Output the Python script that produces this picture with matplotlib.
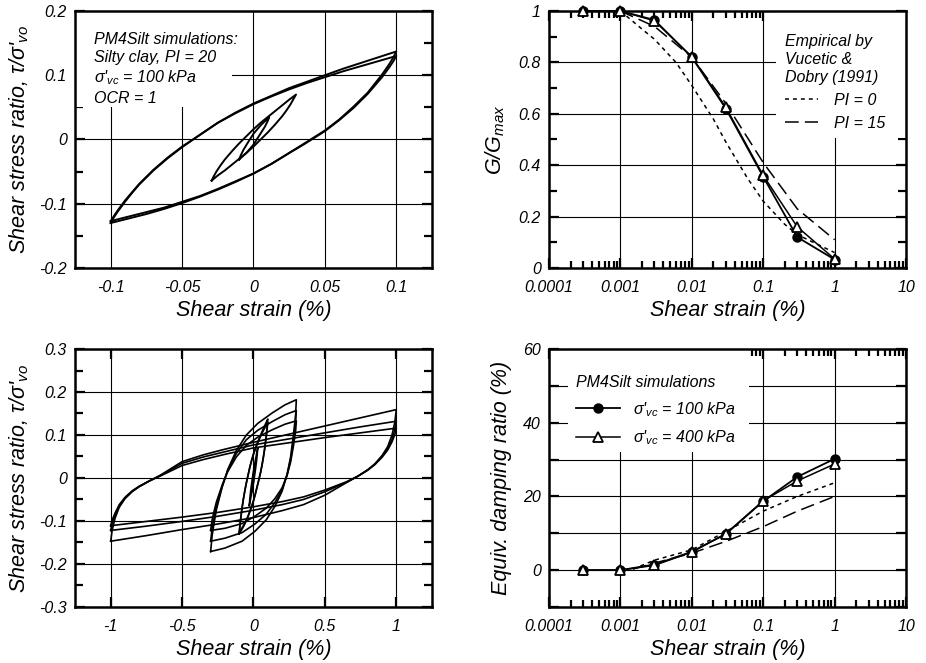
import matplotlib
matplotlib.use("Agg")
import matplotlib.pyplot as plt
from matplotlib.patches import Rectangle
from matplotlib.ticker import MultipleLocator, LogLocator, FuncFormatter, NullFormatter

plt.rcParams['font.family'] = ['Liberation Sans', 'DejaVu Sans']
plt.rcParams['font.style'] = 'italic'
plt.rcParams['font.size'] = 11.5
plt.rcParams['mathtext.fontset'] = 'custom'
plt.rcParams['mathtext.rm'] = 'Liberation Sans:italic'
plt.rcParams['mathtext.it'] = 'Liberation Sans:italic'
plt.rcParams['mathtext.sf'] = 'Liberation Sans:italic'
plt.rcParams['axes.linewidth'] = 1.8

# ---- stress-strain loops (strain %, stress ratio) ----
# 0.01 % cycles
a001_load_x = [-0.010, -0.009, -0.007, -0.004, 0.0, 0.005, 0.011]
a001_load_y = [[-0.031, -0.025, -0.016, -0.005, 0.009, 0.022, 0.035]]
a001_unload_x = [0.011, 0.010, 0.008, 0.004, 0.0, -0.005, -0.010]
a001_unload_y = [[0.035, 0.029, 0.020, 0.006, -0.008, -0.021, -0.031]]

# 0.03 % cycles
a003_load_x = [-0.0293, -0.028, -0.026, -0.023, -0.02, -0.015, -0.01, -0.005, 0.0,
               0.005, 0.01, 0.015, 0.02, 0.025, 0.0298]
a003_load_y = [[-0.064, -0.058, -0.050, -0.040, -0.031, -0.018, -0.006, 0.005, 0.016,
                0.026, 0.035, 0.044, 0.053, 0.062, 0.070]]
a003_unload_x = [0.0298, 0.028, 0.026, 0.023, 0.02, 0.015, 0.01, 0.005, 0.0,
                 -0.005, -0.01, -0.015, -0.02, -0.025, -0.0293]
a003_unload_y = [[0.070, 0.063, 0.055, 0.045, 0.036, 0.023, 0.011, 0.000, -0.011,
                  -0.021, -0.030, -0.039, -0.048, -0.056, -0.064]]

# 0.1 % cycles
a01_load_x = [-0.1, -0.098, -0.095, -0.09, -0.085, -0.08, -0.07, -0.06, -0.05, -0.043,
              -0.035, -0.025, -0.0125, 0.0, 0.0125, 0.025, 0.0375, 0.05, 0.0625, 0.075, 0.0875, 0.1]
a01_load_y = [[-0.130, -0.122, -0.112, -0.097, -0.083, -0.070, -0.048, -0.029, -0.012, -0.001,
               0.011, 0.026, 0.042, 0.056, 0.068, 0.080, 0.090, 0.100, 0.110, 0.119, 0.128, 0.137],
              [-0.127, -0.120, -0.110, -0.095, -0.082, -0.069, -0.047, -0.028, -0.011, -0.001,
               0.011, 0.026, 0.041, 0.055, 0.067, 0.078, 0.088, 0.097, 0.106, 0.114, 0.122, 0.130]]
a01_unload_x = [0.1, 0.098, 0.095, 0.09, 0.085, 0.08, 0.07, 0.06, 0.05, 0.04,
                0.035, 0.025, 0.0125, 0.0, -0.0125, -0.025, -0.0375, -0.05, -0.0625, -0.075, -0.0875, -0.1]
a01_unload_y = [[0.137, 0.128, 0.117, 0.101, 0.087, 0.073, 0.051, 0.031, 0.014, 0.000,
                 -0.007, -0.021, -0.038, -0.053, -0.066, -0.078, -0.089, -0.099, -0.108, -0.116, -0.123, -0.130],
                [0.130, 0.122, 0.112, 0.097, 0.084, 0.071, 0.049, 0.030, 0.013, -0.001,
                 -0.008, -0.021, -0.038, -0.053, -0.065, -0.077, -0.088, -0.097, -0.106, -0.113, -0.120, -0.127]]

# 0.3 % cycles
a03_load_x = [-0.3, -0.29, -0.28, -0.26, -0.22, -0.18, -0.12, -0.05, 0.03, 0.13, 0.22, 0.3]
a03_load_y = [[-0.171, -0.135, -0.113, -0.074, -0.022, 0.020, 0.064, 0.100, 0.127, 0.151, 0.170, 0.182],
              [-0.147, -0.118, -0.099, -0.066, -0.020, 0.018, 0.057, 0.089, 0.111, 0.131, 0.147, 0.157],
              [-0.122, -0.098, -0.083, -0.056, -0.017, 0.015, 0.049, 0.076, 0.095, 0.112, 0.125, 0.133]]
a03_unload_x = [0.3, 0.295, 0.28, 0.26, 0.235, 0.2, 0.15, 0.09, 0.01, -0.08, -0.2, -0.3]
a03_unload_y = [[0.182, 0.147, 0.101, 0.049, 0.008, -0.031, -0.066, -0.097, -0.124, -0.147, -0.163, -0.171],
                [0.157, 0.128, 0.088, 0.043, 0.007, -0.027, -0.057, -0.084, -0.107, -0.127, -0.140, -0.147],
                [0.133, 0.109, 0.075, 0.037, 0.006, -0.023, -0.048, -0.070, -0.089, -0.106, -0.117, -0.122]]

# 1 % cycles
a1_load_x = [-1.0, -0.99, -0.97, -0.94, -0.9, -0.85, -0.8, -0.73, -0.65, -0.5, -0.35, -0.2,
             0.0, 0.25, 0.5, 0.75, 1.0]
a1_load_y = [[-0.147, -0.122, -0.094, -0.068, -0.048, -0.032, -0.020, -0.007, 0.007, 0.038, 0.054, 0.067,
              0.083, 0.102, 0.121, 0.140, 0.159],
             [-0.122, -0.106, -0.087, -0.065, -0.047, -0.031, -0.020, -0.007, 0.006, 0.034, 0.049, 0.061,
              0.077, 0.091, 0.105, 0.119, 0.132],
             [-0.111, -0.098, -0.082, -0.062, -0.045, -0.030, -0.019, -0.007, 0.005, 0.029, 0.043, 0.055,
              0.070, 0.082, 0.094, 0.105, 0.116]]
a1_unload_x = [1.0, 0.99, 0.97, 0.94, 0.9, 0.85, 0.8, 0.73, 0.65, 0.5, 0.35, 0.2,
               0.0, -0.25, -0.5, -0.75, -1.0]
a1_unload_y = [[0.159, 0.130, 0.100, 0.073, 0.052, 0.033, 0.019, 0.004, -0.011, -0.040, -0.062, -0.076,
                -0.092, -0.107, -0.120, -0.134, -0.147],
               [0.132, 0.113, 0.090, 0.068, 0.050, 0.032, 0.019, 0.004, -0.010, -0.032, -0.050, -0.062,
                -0.075, -0.089, -0.101, -0.112, -0.122],
               [0.116, 0.101, 0.084, 0.065, 0.048, 0.031, 0.018, 0.004, -0.009, -0.028, -0.044, -0.055,
                -0.067, -0.080, -0.091, -0.101, -0.111]]

small_loops = [(a001_load_x, a001_load_y, a001_unload_x, a001_unload_y),
               (a003_load_x, a003_load_y, a003_unload_x, a003_unload_y),
               (a01_load_x, a01_load_y, a01_unload_x, a01_unload_y)]
large_loops = [(a03_load_x, a03_load_y, a03_unload_x, a03_unload_y),
               (a1_load_x, a1_load_y, a1_unload_x, a1_unload_y)]

# ---- modulus reduction and damping ----
strain = [0.0003, 0.001, 0.003, 0.01, 0.03, 0.1, 0.3, 1.0]
g_100 = [1.0, 1.0, 0.965, 0.82, 0.62, 0.355, 0.12, 0.033]
g_400 = [1.0, 1.0, 0.962, 0.822, 0.625, 0.36, 0.16, 0.035]
d_100 = [0.0, 0.0, 1.5, 5.0, 9.8, 18.7, 25.3, 30.2]
d_400 = [0.0, 0.0, 1.3, 4.9, 9.9, 18.8, 24.2, 28.8]

vd_pi0_x = [0.001, 0.002, 0.003, 0.006, 0.01, 0.02, 0.03, 0.06, 0.1, 0.2, 0.3, 1.0]
vd_pi0_g = [1.0, 0.93, 0.89, 0.80, 0.71, 0.58, 0.49, 0.35, 0.26, 0.17, 0.13, 0.06]
vd_pi15_x = [0.001, 0.003, 0.01, 0.03, 0.1, 0.3, 1.0]
vd_pi15_g = [1.0, 0.94, 0.82, 0.64, 0.41, 0.23, 0.11]

vd_d_x = [0.0015, 0.003, 0.01, 0.03, 0.1, 0.3, 1.0]
vd_pi0_d = [0.3, 2.7, 5.5, 10.5, 16.0, 20.0, 23.7]
vd_pi15_d = [0.3, 1.9, 4.6, 7.8, 11.8, 16.0, 20.0]

ylab_stress = "Shear stress ratio, \u03c4/\u03c3'$_{vo}$"
xlab = "Shear strain (%)"
LABEL_SIZE = 15.5


def draw_loops(ax, loops, lw):
    for load_x, load_ys, unload_x, unload_ys in loops:
        for ly, uy in zip(load_ys, unload_ys):
            ax.plot(load_x + unload_x, ly + uy, color='black', lw=lw, zorder=2)


def base_style(ax):
    ax.set_axisbelow(True)
    ax.grid(True, which='major', color='black', lw=0.8)
    ax.tick_params(axis='both', which='both', direction='in', top=True, right=True,
                   width=1.6, labelsize=11.5)
    ax.tick_params(axis='x', which='both', pad=9)
    ax.tick_params(axis='y', which='both', pad=6)
    ax.tick_params(which='major', length=7)
    ax.tick_params(which='minor', length=6)
    ax.set_xlabel(xlab, fontsize=LABEL_SIZE, labelpad=3)


fig = plt.figure(figsize=(9.26, 6.63), dpi=100)
ax_tl = fig.add_axes([0.0810, 0.5958, 0.3855, 0.3876])
ax_tr = fig.add_axes([0.5929, 0.5958, 0.3855, 0.3876])
ax_bl = fig.add_axes([0.0810, 0.0845, 0.3855, 0.3891])
ax_br = fig.add_axes([0.5929, 0.0845, 0.3855, 0.3891])

# top left: small-strain loops
ax = ax_tl
draw_loops(ax, small_loops, 1.4)
ax.set_xlim(-0.125, 0.125)
ax.set_ylim(-0.2, 0.2)
ax.xaxis.set_major_locator(MultipleLocator(0.05))
ax.yaxis.set_major_locator(MultipleLocator(0.1))
ax.yaxis.set_minor_locator(MultipleLocator(0.05))
ax.xaxis.set_major_formatter(FuncFormatter(lambda v, p: '%g' % round(v, 3)))
ax.yaxis.set_major_formatter(FuncFormatter(lambda v, p: '%g' % round(v, 3)))
base_style(ax)
ax.tick_params(axis='x', length=0)
ax.set_ylabel(ylab_stress, fontsize=LABEL_SIZE, labelpad=6)
ax.add_patch(Rectangle((0, 0.626), 0.44, 0.374, transform=ax.transAxes,
                       facecolor='white', edgecolor='none', zorder=1))
ax.text(0.054, 0.92, "PM4Silt simulations:\nSilty clay, PI = 20\n\u03c3'$_{vc}$ = 100 kPa\nOCR = 1",
        transform=ax.transAxes, ha='left', va='top', fontsize=11.5, linespacing=1.27, zorder=3)

# bottom left: large-strain loops
ax = ax_bl
draw_loops(ax, small_loops + large_loops, 1.2)
ax.set_xlim(-1.25, 1.25)
ax.set_ylim(-0.3, 0.3)
ax.xaxis.set_major_locator(MultipleLocator(0.5))
ax.yaxis.set_major_locator(MultipleLocator(0.1))
ax.yaxis.set_minor_locator(MultipleLocator(0.05))
ax.xaxis.set_major_formatter(FuncFormatter(lambda v, p: '%g' % round(v, 3)))
ax.yaxis.set_major_formatter(FuncFormatter(lambda v, p: '%g' % round(v, 3)))
base_style(ax)
ax.set_ylabel(ylab_stress, fontsize=LABEL_SIZE, labelpad=6)


def log_style(ax):
    ax.set_xscale('log')
    ax.set_xlim(1e-4, 10)
    ax.xaxis.set_major_locator(LogLocator(base=10, numticks=10))
    ax.xaxis.set_minor_locator(LogLocator(base=10, subs=range(2, 10), numticks=20))
    ax.xaxis.set_major_formatter(FuncFormatter(lambda v, p: '%g' % v))
    ax.xaxis.set_minor_formatter(NullFormatter())
    base_style(ax)
    ax.tick_params(axis='x', which='minor', length=5)


def sim_series(ax, y100, y400):
    ax.plot(strain, y100, '-', color='black', lw=1.3, marker='o', ms=6.5,
            mfc='black', mec='black', zorder=4, clip_on=False, label="\u03c3'$_{vc}$ = 100 kPa")
    ax.plot(strain, y400, '-', color='black', lw=1.1, marker='^', ms=6.5,
            mfc='white', mec='black', mew=1.3, zorder=5, clip_on=False, label="\u03c3'$_{vc}$ = 400 kPa")


DOT = (0, (2.6, 2.6))
DASH = (0, (9, 4))

# top right: G/Gmax
ax = ax_tr
ax.plot(vd_pi0_x, vd_pi0_g, color='black', lw=1.1, ls=DOT, label='PI = 0', zorder=3)
ax.plot(vd_pi15_x, vd_pi15_g, color='black', lw=1.1, ls=DASH, label='PI = 15', zorder=3)
sim_series(ax, g_100, g_400)
log_style(ax)
ax.set_ylim(0, 1)
ax.yaxis.set_major_locator(MultipleLocator(0.2))
ax.yaxis.set_minor_locator(MultipleLocator(0.1))
ax.yaxis.set_major_formatter(FuncFormatter(lambda v, p: '%g' % round(v, 2)))
ax.set_ylabel("G/G$_{max}$", fontsize=LABEL_SIZE, labelpad=8)
ax.add_patch(Rectangle((0.637, 0.505), 0.363, 0.495, transform=ax.transAxes,
                       facecolor='white', edgecolor='none', zorder=1))
h, l = ax.get_legend_handles_labels()
leg = ax.legend(h[:2], l[:2], title="Empirical by\nVucetic &\nDobry (1991)", loc='upper left',
                bbox_to_anchor=(0.649, 0.925), frameon=False, borderpad=0.25, borderaxespad=0,
                handlelength=2.1, handletextpad=1.0, labelspacing=0.5, fontsize=11.5,
                title_fontsize=11.5, alignment='left')
leg.get_title().set_linespacing(1.22)

# bottom right: damping
ax = ax_br
ax.plot(vd_d_x, vd_pi0_d, color='black', lw=1.1, ls=DOT, zorder=3)
ax.plot(vd_d_x, vd_pi15_d, color='black', lw=1.1, ls=DASH, zorder=3)
sim_series(ax, d_100, d_400)
log_style(ax)
ax.set_ylim(-10, 60)
ax.yaxis.set_major_locator(MultipleLocator(10))
ax.yaxis.set_major_formatter(FuncFormatter(lambda v, p: '%g' % v if round(v) % 20 == 0 else ''))
ax.set_ylabel("Equiv. damping ratio (%)", fontsize=LABEL_SIZE, labelpad=8)
ax.add_patch(Rectangle((0.053, 0.6), 0.507, 0.4, transform=ax.transAxes,
                       facecolor='white', edgecolor='none', zorder=1))
h, l = ax.get_legend_handles_labels()
ax.legend(h, l, title="PM4Silt simulations", loc='upper left', bbox_to_anchor=(0.068, 0.91),
          frameon=False, borderpad=0.2, borderaxespad=0, handlelength=2.7, handletextpad=0.85,
          labelspacing=0.6, fontsize=11.5, title_fontsize=11.5, alignment='left')

fig.savefig('out.png', dpi=100)
